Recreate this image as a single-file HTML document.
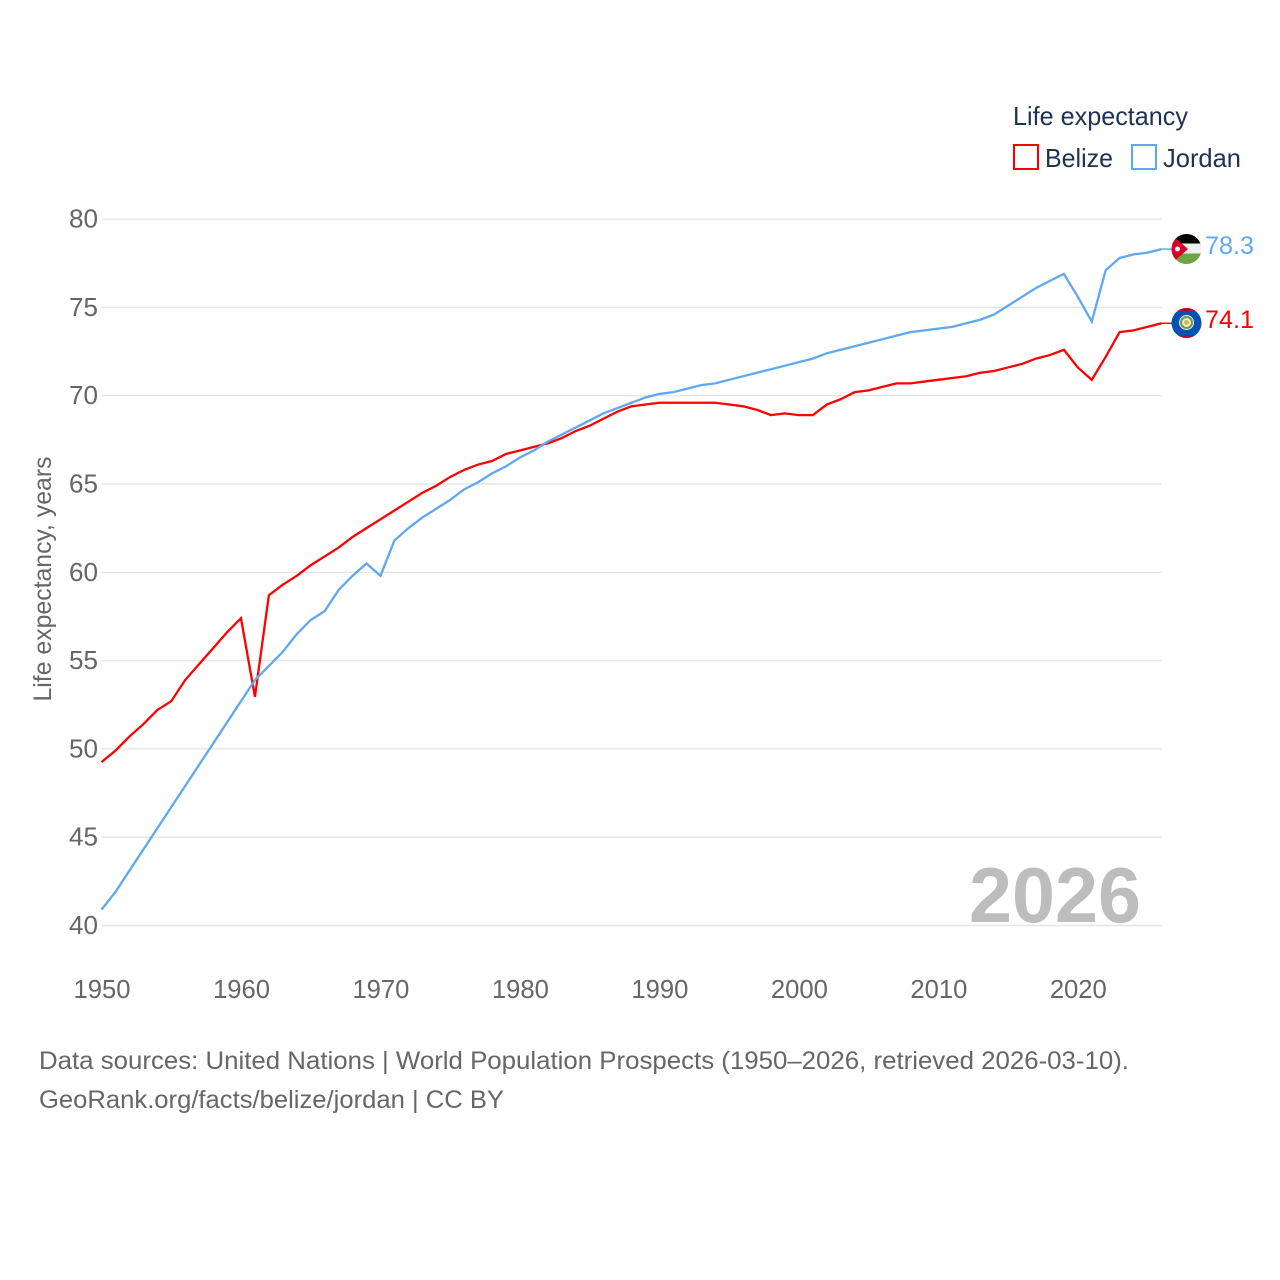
<!DOCTYPE html>
<html lang="en">
<head>
<meta charset="utf-8">
<title>Life expectancy: Belize and Jordan</title>
<style>
html,body{margin:0;padding:0;background:#fff;width:1280px;height:1280px;overflow:hidden}
svg{display:block}
text{font-family:"Liberation Sans",sans-serif}
</style>
</head>
<body>
<svg id="chart" xmlns="http://www.w3.org/2000/svg" width="1280" height="1280" viewBox="0 0 1280 1280">
  <defs>
    <clipPath id="clip-jordan"><circle cx="1186.5" cy="249" r="15"/></clipPath>
    <clipPath id="clip-belize"><circle cx="1186.5" cy="323" r="15"/></clipPath>
  </defs>
  <rect width="1280" height="1280" fill="#fff"/>
  <g id="grid"></g>
  <g id="yticks"></g>
  <g id="xticks"></g>
  <text transform="translate(51 579) rotate(-90)" text-anchor="middle" font-size="25" fill="#666" textLength="245" lengthAdjust="spacingAndGlyphs">Life expectancy, years</text>

  <text x="969" y="922" font-size="78" font-weight="bold" fill="#bdbdbd" textLength="172" lengthAdjust="spacingAndGlyphs">2026</text>

  <g id="series"></g>

  <g clip-path="url(#clip-jordan)">
    <rect x="1171" y="233" width="31" height="11" fill="#000"/>
    <rect x="1171" y="243.500" width="31" height="10" fill="#f0f0f0"/>
    <rect x="1171" y="253.500" width="31" height="11" fill="#6da544"/>
    <polygon points="1171,234 1171,264 1188,249" fill="#d80027"/>
    <circle cx="1177.500" cy="249" r="2.500" fill="#f0f0f0"/>
  </g>
  <g clip-path="url(#clip-belize)">
    <rect x="1171" y="308" width="31" height="30" fill="#0a50b4"/>
    <rect x="1171" y="308" width="31" height="3" fill="#a2122f"/>
    <rect x="1171" y="335" width="31" height="3" fill="#a2122f"/>
    <circle cx="1186.5" cy="322.5" r="7.500" fill="#e8f0e0"/>
    <circle cx="1186.5" cy="322.5" r="5.500" fill="none" stroke="#6a9a50" stroke-width="2"/>
    <circle cx="1186.5" cy="322.5" r="2.500" fill="#d8b840"/>
  </g>
  <text x="1205" y="254" font-size="25" fill="#5fa8f0" textLength="49" lengthAdjust="spacingAndGlyphs">78.3</text>
  <text x="1205" y="328" font-size="25" fill="#ff0000" textLength="49" lengthAdjust="spacingAndGlyphs">74.1</text>

  <text x="1013" y="125" font-size="26" fill="#1d3354" textLength="175" lengthAdjust="spacingAndGlyphs">Life expectancy</text>
  <g>
    <rect x="1014" y="145" width="24" height="24" fill="#fff" stroke="#ff0000" stroke-width="2"/>
    <text x="1045" y="167" font-size="26" fill="#1d3354" textLength="68" lengthAdjust="spacingAndGlyphs">Belize</text>
  </g>
  <g>
    <rect x="1132" y="145" width="24" height="24" fill="#fff" stroke="#5fa8f0" stroke-width="2"/>
    <text x="1163" y="167" font-size="26" fill="#1d3354" textLength="78" lengthAdjust="spacingAndGlyphs">Jordan</text>
  </g>

  <text x="39" y="1069" font-size="25" fill="#666" textLength="1090" lengthAdjust="spacingAndGlyphs">Data sources: United Nations | World Population Prospects (1950–2026, retrieved 2026-03-10).</text>
  <text x="39" y="1108" font-size="25" fill="#666" textLength="465" lengthAdjust="spacingAndGlyphs">GeoRank.org/facts/belize/jordan | CC BY</text>
</svg>
<script>
const startYear = 1950;
const endYear = 2026;
const yTickValues = [40, 45, 50, 55, 60, 65, 70, 75, 80];
const xTickValues = [1950, 1960, 1970, 1980, 1990, 2000, 2010, 2020];
const belizeValues = [49.25, 49.9, 50.7, 51.4, 52.2, 52.7, 53.9, 54.8, 55.7, 56.6, 57.4, 52.95, 58.7, 59.3, 59.8, 60.4, 60.9, 61.4, 62.0, 62.5, 63.0, 63.5, 64.0, 64.5, 64.9, 65.4, 65.8, 66.1, 66.3, 66.7, 66.9, 67.1, 67.3, 67.6, 68.0, 68.3, 68.7, 69.1, 69.4, 69.5, 69.6, 69.6, 69.6, 69.6, 69.6, 69.5, 69.4, 69.2, 68.9, 69.0, 68.9, 68.9, 69.5, 69.8, 70.2, 70.3, 70.5, 70.7, 70.7, 70.8, 70.9, 71.0, 71.1, 71.3, 71.4, 71.6, 71.8, 72.1, 72.3, 72.6, 71.6, 70.9, 72.2, 73.6, 73.7, 73.9, 74.1];
const jordanValues = [40.9, 41.9, 43.1, 44.3, 45.5, 46.7, 47.9, 49.1, 50.3, 51.5, 52.7, 53.9, 54.7, 55.5, 56.5, 57.3, 57.8, 59.0, 59.8, 60.5, 59.8, 61.8, 62.5, 63.1, 63.6, 64.1, 64.7, 65.1, 65.6, 66.0, 66.5, 66.9, 67.4, 67.8, 68.2, 68.6, 69.0, 69.3, 69.6, 69.9, 70.1, 70.2, 70.4, 70.6, 70.7, 70.9, 71.1, 71.3, 71.5, 71.7, 71.9, 72.1, 72.4, 72.6, 72.8, 73.0, 73.2, 73.4, 73.6, 73.7, 73.8, 73.9, 74.1, 74.3, 74.6, 75.1, 75.6, 76.1, 76.5, 76.9, 75.6, 74.2, 77.1, 77.8, 78.0, 78.1, 78.3];

const NS = 'http://www.w3.org/2000/svg';
const xScale = function (year) { return 101.5 + (year - startYear) * (1161.5 - 101.5) / (endYear - startYear); };
const yScale = function (v) { return 925.5 - (v - 40) * 17.66; };

const grid = document.getElementById('grid');
const yticks = document.getElementById('yticks');
const xticks = document.getElementById('xticks');
const series = document.getElementById('series');

yTickValues.forEach(function (v) {
  const line = document.createElementNS(NS, 'line');
  line.setAttribute('x1', 101.5);
  line.setAttribute('x2', 1161.5);
  line.setAttribute('y1', yScale(v));
  line.setAttribute('y2', yScale(v));
  line.setAttribute('stroke', '#e6e6e6');
  line.setAttribute('stroke-width', 1.4);
  
  
  grid.appendChild(line);

  const t = document.createElementNS(NS, 'text');
  t.setAttribute('x', 69);
  t.setAttribute('y', yScale(v) + 8.5);
  t.setAttribute('font-size', 26);
  t.setAttribute('fill', '#666');
  t.setAttribute('textLength', 29);
  t.setAttribute('lengthAdjust', 'spacingAndGlyphs');
  
  
  t.textContent = String(v);
  yticks.appendChild(t);
});

xTickValues.forEach(function (year) {
  const t = document.createElementNS(NS, 'text');
  t.setAttribute('x', xScale(year) - 28);
  t.setAttribute('y', 998);
  t.setAttribute('font-size', 26);
  t.setAttribute('fill', '#666');
  t.setAttribute('textLength', 57);
  t.setAttribute('lengthAdjust', 'spacingAndGlyphs');
  
  
  t.textContent = String(year);
  xticks.appendChild(t);
});

function drawSeries(values, color, name) {
  const pts = values.map(function (v, i) {
    return xScale(startYear + i).toFixed(2) + ',' + yScale(v).toFixed(2);
  });
  const last = values[values.length - 1];

  const connector = document.createElementNS(NS, 'line');
  connector.setAttribute('x1', xScale(endYear));
  connector.setAttribute('x2', 1172);
  connector.setAttribute('y1', yScale(last));
  connector.setAttribute('y2', yScale(last));
  connector.setAttribute('stroke', color);
  connector.setAttribute('stroke-width', 1.5);
  
  
  series.appendChild(connector);

  const line = document.createElementNS(NS, 'polyline');
  line.setAttribute('points', pts.join(' '));
  line.setAttribute('fill', 'none');
  line.setAttribute('stroke', color);
  line.setAttribute('stroke-width', 2.3);
  line.setAttribute('stroke-linejoin', 'miter');
  
  
  series.appendChild(line);
}

drawSeries(belizeValues, '#ff0000', 'belize');
drawSeries(jordanValues, '#5fa8f0', 'jordan');
</script>
</body>
</html>
